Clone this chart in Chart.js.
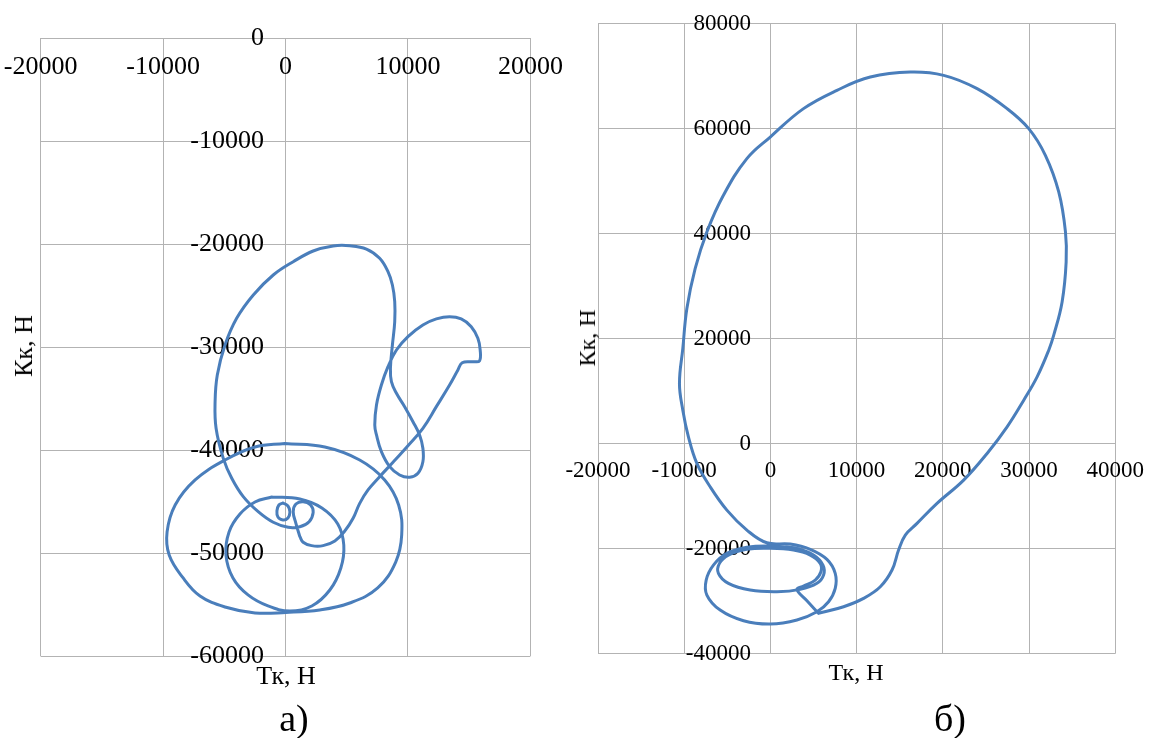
<!DOCTYPE html>
<html>
<head>
<meta charset="utf-8">
<script src="https://cdn.jsdelivr.net/npm/chart.js@4"></script>
<style>
  html, body { margin: 0; background: #fff; }
  #page { position: relative; width: 1152px; height: 738px; overflow: hidden;
          font-family: 'Liberation Serif', 'Times New Roman', serif; color: #000; }
  canvas { position: absolute; top: 0; }
  #chartA { left: -10px; }
  #chartB { left: 540px; }
  .lbl { position: absolute; transform: translate(-50%, -50%); white-space: nowrap; line-height: 1; }
  .rot { transform: translate(-50%, -50%) rotate(-90deg); }
</style>
</head>
<body>
<div id="page">
  <canvas id="chartA" width="596" height="738"></canvas>
  <canvas id="chartB" width="630" height="738"></canvas>
  <div class="lbl rot" style="left:24px;top:346px;font-size:26px">Кк, Н</div>
  <div class="lbl" style="left:286px;top:676px;font-size:26px">Тк, Н</div>
  <div class="lbl rot" style="left:587px;top:338px;font-size:24px">Кк, Н</div>
  <div class="lbl" style="left:856px;top:672px;font-size:24px">Тк, Н</div>
  <div class="lbl" style="left:294px;top:718px;font-size:38px">а)</div>
  <div class="lbl" style="left:950px;top:718px;font-size:38px">б)</div>
</div>
<script>
// chart а): Tк (x) and Kк (y), N
const cycleTk = [1170, 1440, 2130, 3070, 4030, 4840, 5520, 6060, 6740, 7690, 8780, 10000, 11220, 12320,
  13400, 14080, 14430, 15300, 15840, 15900, 15710, 15170, 14350, 13400, 12320, 11220, 10000, 9060, 8370,
  7830, 7430, 7290, 7430, 7830, 8510, 9320, 10140, 10820, 11220, 11220, 10950, 10410, 9730, 9060, 8650,
  8570, 8730, 8920, 8920, 8730, 8370, 7690, 6610, 5250, 3890, 2260, 630, -1000, -2630, -3990, -4940,
  -5570, -5750, -5670, -5080, -4390, -3450, -2230, -1000, 220, 1170, 1930, 2260, 2050, 1440, 850, 630,
  850, 1170]
const cycleKk = [-48400, -48950, -49280, -49280, -48830, -47860, -46620, -45170, -43870, -42580, -41180,
  -39570, -37880, -35780, -33680, -32220, -31510, -31410, -31340, -30280, -29140, -28010, -27260, -27040,
  -27260, -27850, -28980, -30280, -31900, -33680, -35620, -37560, -38530, -40150, -41610, -42420, -42640,
  -42250, -41130, -39820, -38530, -37240, -35780, -34480, -33350, -32050, -29790, -27530, -25580, -23960,
  -22670, -21370, -20470, -20150, -20170, -20660, -21700, -22990, -24930, -27200, -29790, -32700, -35300,
  -37880, -40800, -42740, -44520, -45980, -47010, -47500, -47440, -46950, -46040, -45330, -45010, -45230,
  -45980, -47110, -48400]

const bigRingTk = [-50, 3210, 6060, 8100, 9240, 9490, 9000, 7530, 5250, 2800, 30, -2490, -4940, -6980,
  -8360, -9500, -9670, -9010, -7380, -4940, -2490, -50]
const bigRingKk = [-39360, -39700, -40960, -42900, -45330, -48240, -50870, -53390, -54850, -55530, -55770,
  -55820, -55240, -54170, -52420, -50190, -47950, -45330, -42900, -40960, -39700, -39360]

const midRingTk = [-1110, 1170, 2970, 4270, 4760, 4520, 3620, 2150, 360, -1430, -3060, -4290, -4860, -4610,
  -3720, -2490, -1110]
const midRingKk = [-44550, -44750, -45620, -47180, -49220, -51450, -53590, -55140, -55630, -55140, -54070,
  -52420, -50190, -47950, -46210, -45040, -44550]

const smallRingTk = [-210, 200, 360, 200, -210, -620, -700, -540, -210]
const smallRingKk = [-45140, -45430, -46010, -46590, -46790, -46500, -45910, -45330, -45140]

// chart б)
const loopTk = [5580, 8490, 10810, 12750, 14110, 14870, 15650, 17010, 19330, 22420, 25140, 27460, 29390,
  30940, 32290, 32870, 33840, 34310, 34230, 33450, 31900, 29970, 27460, 23980, 20100, 16230, 11590, 7720,
  3840, -20, -2730, -5450, -7370, -8730, -9690, -10160, -10550, -10160, -9510, -8530, -6990, -5050, -2730, -410]
const loopKk = [-32310, -31060, -29460, -27250, -24070, -20270, -17410, -15190, -11380, -6950, -1870, 3200,
  8280, 12710, 17790, 20650, 26990, 34600, 40310, 47920, 54900, 59980, 63790, 67600, 70130, 70750, 69800,
  67270, 63790, 58380, 54270, 47290, 40310, 33340, 25730, 18120, 11460, 6380, 1290, -3770, -8220, -12660,
  -16460, -18880]

const coilTk = [2300, 4620, 6560, 7520, 7520, 6750, 5400, 3080, -20, -3120, -5830, -7370, -7450, -6610,
  -5050, -2730, -20, 3080, 5000, 6100, 6170, 5400, 3460, 760, -2350, -4870, -6030, -5910, -4870, -2730,
  -20, 2680, 4620, 5780, 5860, 5200, 3840, 3080, 4240, 5580]
const coilKk = [-19130, -20130, -22040, -24700, -27560, -30110, -32010, -33590, -34350, -33720, -31690,
  -28830, -25980, -23120, -20900, -19750, -19510, -19940, -21220, -23120, -25020, -26600, -27750, -28200,
  -27880, -26600, -24700, -22800, -21220, -20130, -19940, -20270, -21220, -22800, -24400, -25980, -27120,
  -27750, -29920, -32310]

const SERIF = "'Liberation Serif', 'Times New Roman', serif"
const BLUE = '#4a7ebb'
const GRID = '#b3b3b3'

function pairs(xs, ys) {
  return xs.map((x, i) => ({ x: x, y: ys[i] }))
}

function curve(xs, ys) {
  return {
    data: pairs(xs, ys),
    showLine: true,
    borderColor: BLUE,
    borderWidth: 3,
    borderCapStyle: 'round',
    borderJoinStyle: 'round',
    pointRadius: 0,
    tension: 0.4,
    fill: false,
  }
}

function axis(min, max, step, position, size, pad) {
  return {
    type: 'linear',
    min: min,
    max: max,
    position: position,
    ticks: {
      stepSize: step,
      color: '#000',
      font: { family: SERIF, size: size },
      padding: pad,
      maxRotation: 0,
      autoSkip: false,
      callback: v => String(v),
    },
    grid: { color: GRID, lineWidth: 1, drawTicks: false },
    border: { color: GRID, width: 1 },
  }
}

// value axis labels sit a little left of the Tк = 0 line, the line itself is the x grid line
function valueAxis(min, max, step, labelAt, size) {
  const a = axis(min, max, step, { x: labelAt }, size, 0)
  a.border = { display: false }
  return a
}

const common = {
  responsive: false,
  animation: false,
  events: [],
  plugins: { legend: { display: false }, tooltip: { enabled: false } },
}

new Chart(document.getElementById('chartA'), {
  type: 'scatter',
  data: {
    datasets: [
      curve(cycleTk, cycleKk),
      curve(bigRingTk, bigRingKk),
      curve(midRingTk, midRingKk),
      curve(smallRingTk, smallRingKk),
    ]
  },
  options: {
    ...common,
    layout: { padding: { left: 50.6, top: 38.3, right: 55.6, bottom: 82 } },
    scales: {
      x: axis(-20000, 20000, 10000, { y: 0 }, 26, 13),
      y: valueAxis(-60000, 0, 10000, -1760, 26),
    }
  }
})

new Chart(document.getElementById('chartB'), {
  type: 'scatter',
  data: {
    datasets: [
      curve(loopTk.concat(coilTk), loopKk.concat(coilKk)),
    ]
  },
  options: {
    ...common,
    layout: { padding: { left: 58, top: 23.5, right: 54.8, bottom: 84.3 } },
    scales: {
      x: axis(-20000, 40000, 10000, { y: 0 }, 23, 14),
      y: valueAxis(-40000, 80000, 20000, -2265, 23),
    }
  }
})
</script>
</body>
</html>
